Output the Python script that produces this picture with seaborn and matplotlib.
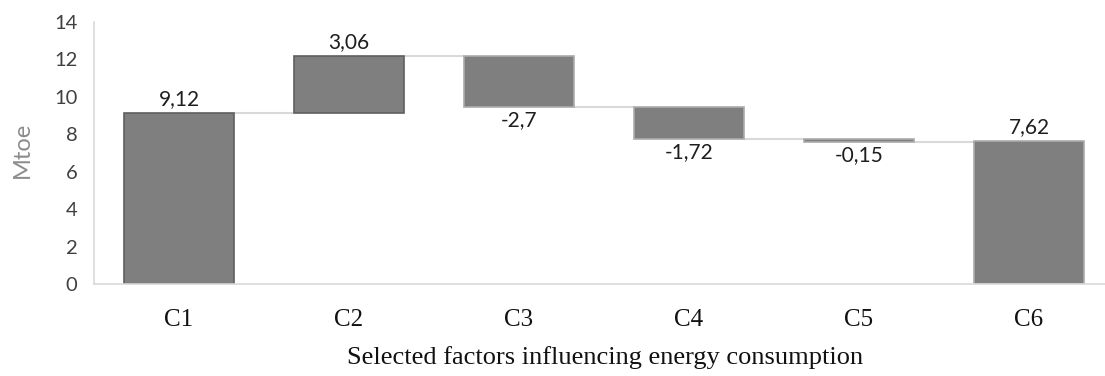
import numpy as np
import pandas as pd
import matplotlib
matplotlib.use("Agg")
import matplotlib.pyplot as plt
import seaborn as sns

# Waterfall of energy consumption factors (Mtoe)
categories = ["C1", "C2", "C3", "C4", "C5", "C6"]
changes = [9.12, 3.06, -2.70, -1.72, -0.15, 7.62]
is_total = [True, False, False, False, False, True]

# running levels for the floating bars
bottoms, heights, tops = [], [], []
level = 0.0
for c, tot in zip(changes, is_total):
    if tot:
        b, h = 0.0, c
        level = c
    else:
        b, h = (level, c) if c >= 0 else (level + c, -c)
        level = level + c
    bottoms.append(b)
    heights.append(h)
    tops.append(level)

df = pd.DataFrame({"cat": categories, "height": heights})

sns.set_theme(style="white")
plt.rcParams["font.family"] = ["Lato", "DejaVu Sans"]

fig = plt.figure(figsize=(11.05, 3.76), dpi=100)
ax = fig.add_axes([94 / 1105, 1 - 284 / 376, 1 - 94 / 1105, (284 - 22) / 376])

bar_w = 0.65
sns.barplot(data=df, x="cat", y="height", bottom=bottoms, color="#7f7f7f",
            width=bar_w, saturation=1, linewidth=1.2, edgecolor="#a6a6a6", ax=ax)

n = len(categories)
for i, (p, c, tot) in enumerate(zip(ax.patches, changes, is_total)):
    p.set_facecolor("#7f7f7f")
    if c > 0 and i < n - 1:
        p.set_edgecolor("#5f5f5f")
    else:
        p.set_edgecolor("#ababab")

# connectors between consecutive bars
for i in range(n - 1):
    ax.plot([i + bar_w / 2, i + 1 - bar_w / 2], [tops[i], tops[i]],
            color="#d9d9d9", lw=1.5, zorder=0.5, solid_capstyle="butt")

# value labels
for i, c in enumerate(changes):
    txt = f"{c:g}".replace(".", ",")
    if c >= 0:
        ax.annotate(txt, (i, bottoms[i] + heights[i]), xytext=(0, 3),
                    textcoords="offset points", ha="center", va="bottom",
                    fontsize=15, color="#1e1e1e")
    else:
        ax.annotate(txt, (i, bottoms[i]), xytext=(0, -2.5),
                    textcoords="offset points", ha="center", va="top",
                    fontsize=15, color="#1e1e1e")

ax.set_xlim(-0.5, (1105 - 94) / 170 - 0.5)
ax.set_ylim(0, 14)
ax.set_yticks(np.arange(0, 15, 2))
ax.tick_params(axis="y", labelsize=14.5, labelcolor="#404040", length=0, pad=12)
ax.tick_params(axis="x", length=0, pad=18)
ax.set_xticks(range(n))
ax.set_xticklabels(categories, fontfamily="Liberation Serif", fontsize=18, color="#111111")

for s in ["top", "right"]:
    ax.spines[s].set_visible(False)
for s in ["left", "bottom"]:
    ax.spines[s].set_color("#d9d9d9")
    ax.spines[s].set_linewidth(1.2)

ax.set_xlabel("")
ax.set_ylabel("")
fig.text(22 / 1105, 1 - 150 / 376, "Mtoe", rotation=90, ha="center", va="center",
         fontsize=17, color="#8c8c8c")

fig.text(605 / 1105, 1 - 358 / 376, "Selected factors influencing energy consumption",
         ha="center", va="center", fontfamily="Liberation Serif", fontsize=19, color="#111111")

fig.savefig("out.png", dpi=100)
